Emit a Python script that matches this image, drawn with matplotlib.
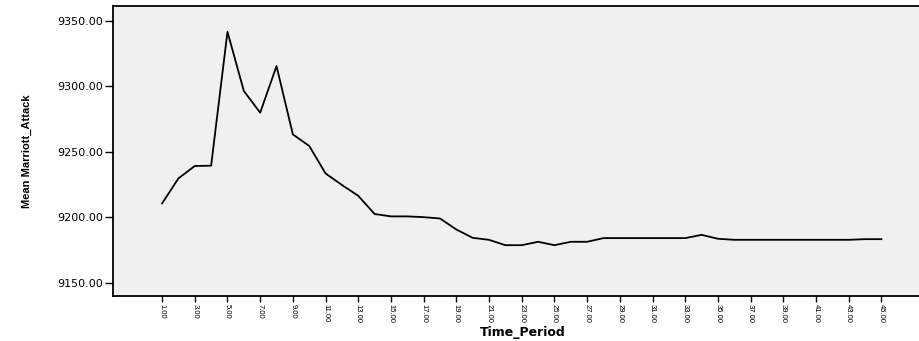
import numpy as np
import matplotlib
matplotlib.use('Agg')
import matplotlib.pyplot as plt

# data
periods = list(range(1, 46))
mean_attack = [9210.7, 9229.8, 9239.3, 9239.5, 9341.8, 9296.6, 9280.0, 9315.6, 9263.4, 9254.6,
               9233.6, 9224.8, 9216.5, 9202.6, 9200.8, 9200.8, 9200.2, 9199.2, 9190.8, 9184.4,
               9182.9, 9178.8, 9178.8, 9181.4, 9178.8, 9181.4, 9181.4, 9184.2, 9184.2, 9184.2,
               9184.2, 9184.2, 9184.2, 9186.7, 9183.7, 9182.9, 9182.9, 9182.9, 9182.9, 9182.9,
               9182.9, 9182.9, 9182.9, 9183.4, 9183.4]
xticks = list(range(1, 46, 2))
xtick_labels = ['%.2f' % v for v in xticks]
yticks = [9150, 9200, 9250, 9300, 9350]
ytick_labels = ['%.2f' % v for v in yticks]

fig = plt.figure(figsize=(9.19, 3.41), dpi=100)
ax = fig.add_axes([0.123, 0.132, 0.877, 0.8505])
ax.set_facecolor('#f0f0f0')

ax.plot(periods, mean_attack, color='black', linewidth=1.3)

ax.set_xlim(-2.0, 47.3)
ax.set_ylim(9140.0, 9361.5)

ax.set_xticks(xticks)
ax.set_xticklabels(xtick_labels, rotation=270, fontsize=5.5, family='Liberation Sans')
ax.set_yticks(yticks)
ax.set_yticklabels(ytick_labels, fontsize=8, family='DejaVu Sans')
ax.tick_params(axis='x', length=4.5, width=1, pad=1.5)
ax.tick_params(axis='y', length=6, width=1, pad=1)

for side in ['left', 'top', 'bottom']:
    ax.spines[side].set_linewidth(1.3)
ax.spines['right'].set_visible(False)

ax.set_ylabel('Mean Marriott_Attack', fontsize=8, fontweight='bold', family='Liberation Sans')
ax.yaxis.set_label_coords(-0.100, 0.50)
ax.set_xlabel('Time_Period', fontsize=9, fontweight='bold', family='DejaVu Sans')
ax.xaxis.set_label_coords(0.508, -0.105)

# title is cut off at the top of the image; only its descender shows
fig.text(0.492, 1.012, 'Graph', ha='center', va='baseline', fontsize=14,
         fontweight='bold', family='DejaVu Serif')

fig.savefig('out.png', dpi=100)
